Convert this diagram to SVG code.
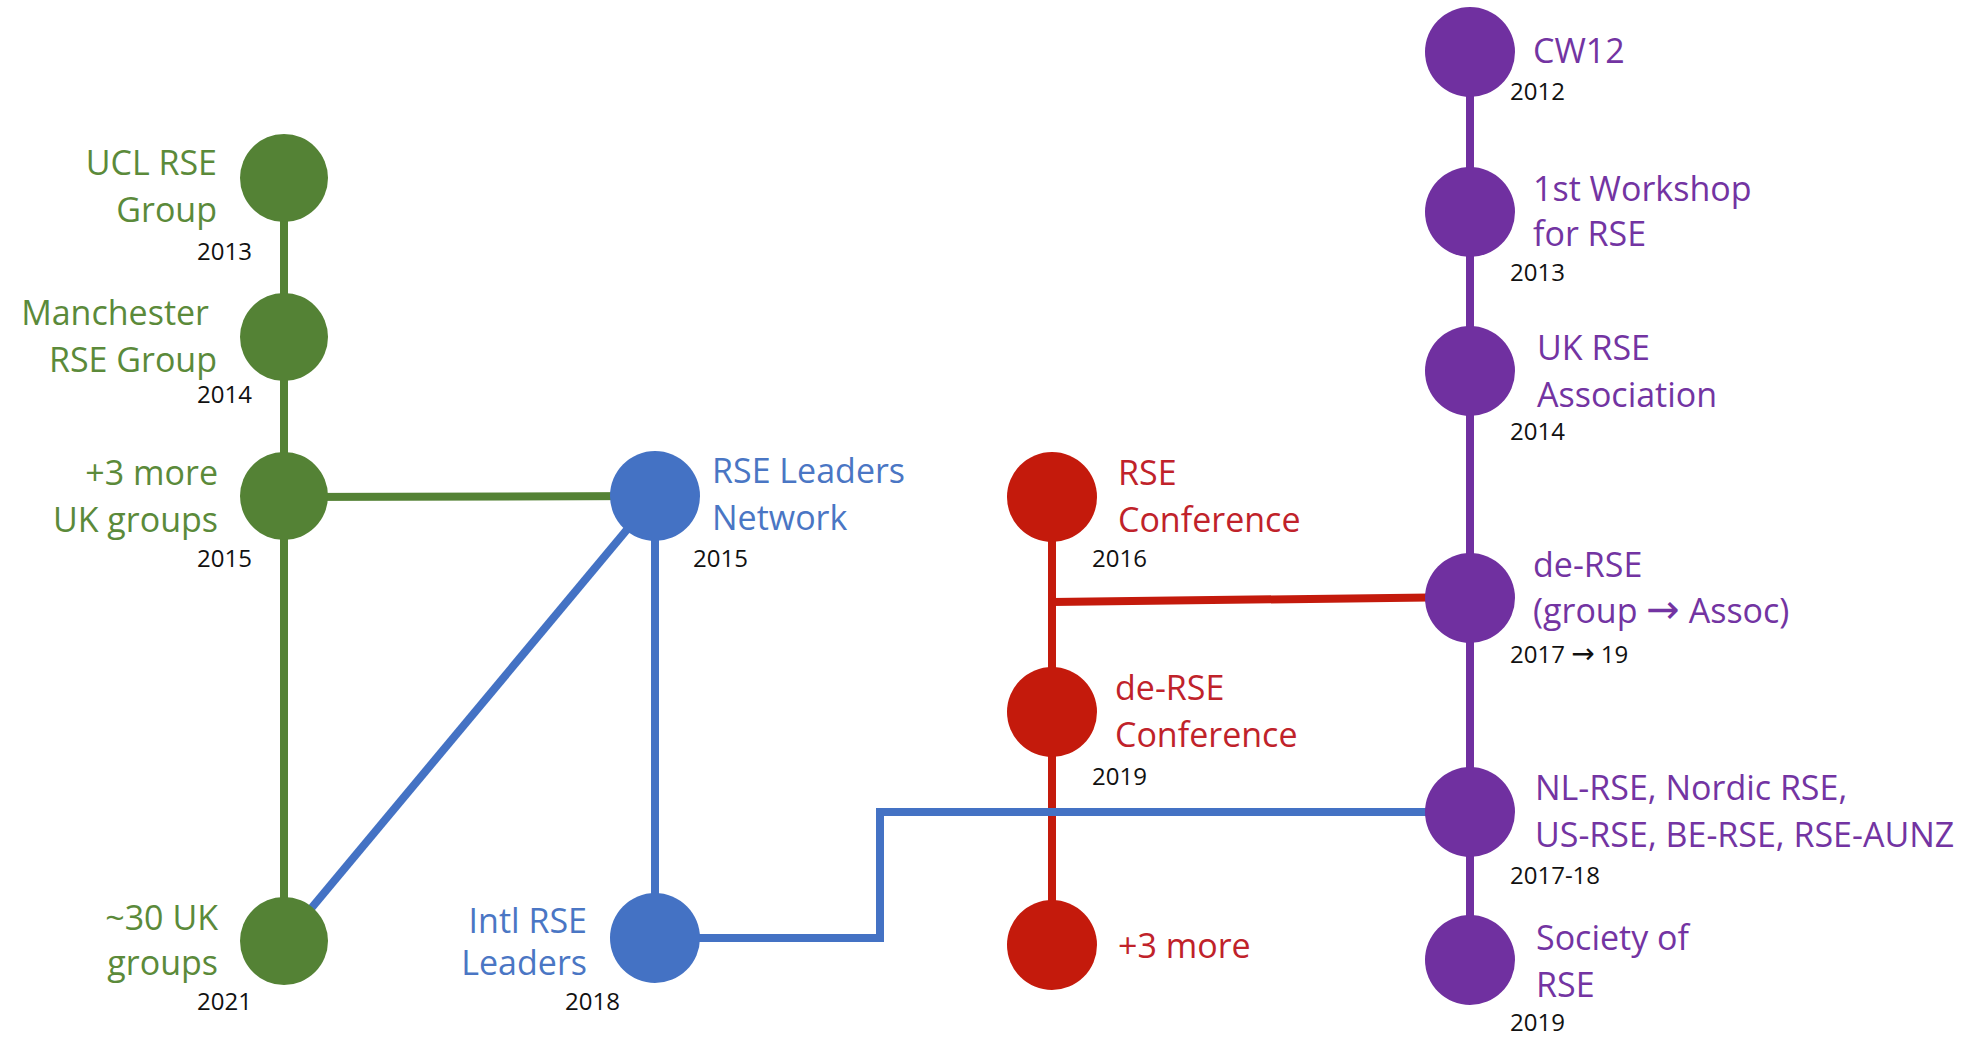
<svg xmlns="http://www.w3.org/2000/svg" width="1980" height="1037" viewBox="0 0 1980 1037">
<style>
text{font-family:"Open Sans","DejaVu Sans",sans-serif}
.lbl{font-size:34px}
.yr{font-size:24px;fill:#111}
.g{fill:#548235}.gt{fill:#5B8A3A}
.b{fill:#4472C4}.bt{fill:#4A76C4}
.r{fill:#C41A0C}.rt{fill:#C0222A}
.p{fill:#7030A0}.pt{fill:#7334A2}
.end{text-anchor:end}
.ln{fill:none;stroke-width:8}
.arr{font-family:"DejaVu Sans",sans-serif}
</style>
<rect width="1980" height="1037" fill="#fff"/>
<g id="connectors">
<line class="ln" stroke="#548235" x1="284" y1="178" x2="284" y2="941"/>
<line class="ln" stroke="#548235" x1="284" y1="497" x2="655" y2="496"/>
<line class="ln" stroke="#7030A0" x1="1470" y1="52" x2="1470" y2="960"/>
<line class="ln" stroke="#C41A0C" x1="1052" y1="497" x2="1052" y2="945"/>
<line class="ln" stroke="#C41A0C" x1="1052" y1="602" x2="1470" y2="597"/>
<line class="ln" stroke="#4472C4" x1="284" y1="941" x2="655" y2="496"/>
<line class="ln" stroke="#4472C4" x1="655" y1="496" x2="655" y2="938"/>
<polyline class="ln" stroke="#4472C4" points="655,938 880,938 880,812 1470,812"/>
</g>
<g id="ucl">
<circle class="g" cx="284" cy="178" r="44"/>
<text class="lbl gt end" x="217" y="175">UCL RSE</text>
<text class="lbl gt end" x="217" y="222">Group</text>
<text class="yr" x="197" y="260">2013</text>
</g>
<g id="manchester">
<circle class="g" cx="284" cy="337" r="44"/>
<text class="lbl gt end" x="209" y="325">Manchester</text>
<text class="lbl gt end" x="217" y="372">RSE Group</text>
<text class="yr" x="197" y="403">2014</text>
</g>
<g id="uk3more">
<circle class="g" cx="284" cy="496" r="44"/>
<text class="lbl gt end" x="218" y="485">+3 more</text>
<text class="lbl gt end" x="218" y="532">UK groups</text>
<text class="yr" x="197" y="567">2015</text>
</g>
<g id="uk30">
<circle class="g" cx="284" cy="941" r="44"/>
<text class="lbl gt end" x="218" y="930">~30 UK</text>
<text class="lbl gt end" x="218" y="975">groups</text>
<text class="yr" x="197" y="1010">2021</text>
</g>
<g id="rseleaders">
<circle class="b" cx="655" cy="496" r="45"/>
<text class="lbl bt" x="712" y="483">RSE Leaders</text>
<text class="lbl bt" x="712" y="530">Network</text>
<text class="yr" x="693" y="567">2015</text>
</g>
<g id="intlleaders">
<circle class="b" cx="655" cy="938" r="45"/>
<text class="lbl bt end" x="587" y="933">Intl RSE</text>
<text class="lbl bt end" x="587" y="975">Leaders</text>
<text class="yr" x="565" y="1010">2018</text>
</g>
<g id="rseconf">
<circle class="r" cx="1052" cy="497" r="45"/>
<text class="lbl rt" x="1118" y="485">RSE</text>
<text class="lbl rt" x="1118" y="532">Conference</text>
<text class="yr" x="1092" y="567">2016</text>
</g>
<g id="derseconf">
<circle class="r" cx="1052" cy="712" r="45"/>
<text class="lbl rt" x="1115" y="700">de-RSE</text>
<text class="lbl rt" x="1115" y="747">Conference</text>
<text class="yr" x="1092" y="785">2019</text>
</g>
<g id="conf3more">
<circle class="r" cx="1052" cy="945" r="45"/>
<text class="lbl rt" x="1118" y="958">+3 more</text>
</g>
<g id="cw12">
<circle class="p" cx="1470" cy="52" r="45"/>
<text class="lbl pt" x="1533" y="63">CW12</text>
<text class="yr" x="1510" y="100">2012</text>
</g>
<g id="workshop">
<circle class="p" cx="1470" cy="212" r="45"/>
<text class="lbl pt" x="1533" y="201">1st Workshop</text>
<text class="lbl pt" x="1533" y="246">for RSE</text>
<text class="yr" x="1510" y="281">2013</text>
</g>
<g id="ukrse">
<circle class="p" cx="1470" cy="371" r="45"/>
<text class="lbl pt" x="1537" y="360">UK RSE</text>
<text class="lbl pt" x="1537" y="407">Association</text>
<text class="yr" x="1510" y="440">2014</text>
</g>
<g id="derse">
<circle class="p" cx="1470" cy="598" r="45"/>
<text class="lbl pt" x="1533" y="577">de-RSE</text>
<text class="lbl pt" x="1533" y="623">(group <tspan class="arr" font-size="40">→</tspan> Assoc)</text>
<text class="yr" x="1510" y="663">2017 <tspan class="arr" font-size="28">→</tspan> 19</text>
</g>
<g id="nlrse">
<circle class="p" cx="1470" cy="812" r="45"/>
<text class="lbl pt" x="1535" y="800">NL-RSE, Nordic RSE,</text>
<text class="lbl pt" x="1535" y="847">US-RSE, BE-RSE, RSE-AUNZ</text>
<text class="yr" x="1510" y="884">2017-18</text>
</g>
<g id="society">
<circle class="p" cx="1470" cy="960" r="45"/>
<text class="lbl pt" x="1536" y="950">Society of</text>
<text class="lbl pt" x="1536" y="997">RSE</text>
<text class="yr" x="1510" y="1031">2019</text>
</g>
</svg>
